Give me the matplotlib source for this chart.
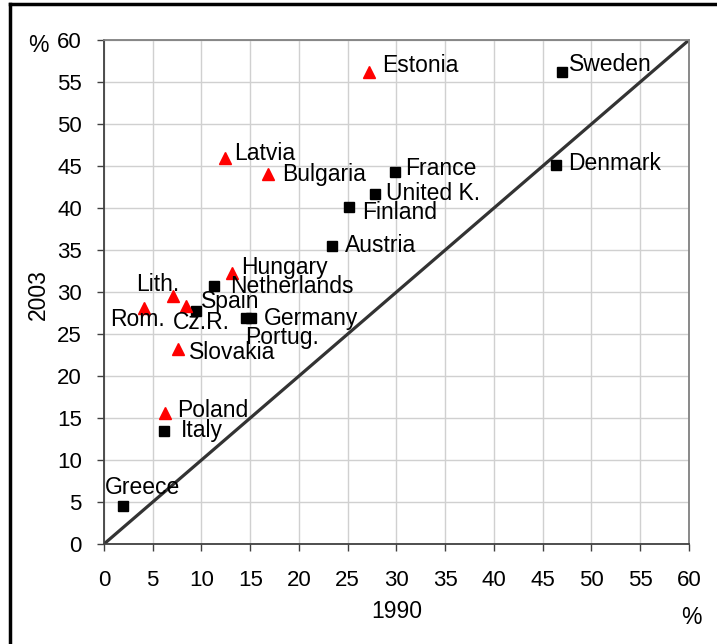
import numpy as np
import matplotlib
matplotlib.use("Agg")
import matplotlib.pyplot as plt
from matplotlib.lines import Line2D

plt.rcParams["font.family"] = ["Liberation Sans", "DejaVu Sans"]

# ----------------------------
# DATA
# ----------------------------
old_names = ["Sweden", "Denmark", "France", "United K.", "Finland", "Austria",
             "Netherlands", "Spain", "Germany", "Portug.", "Italy", "Greece"]
old_1990 = [47.0, 46.4, 29.8, 27.8, 25.1, 23.4, 11.3, 9.4, 15.1, 14.6, 6.2, 1.9]
old_2003 = [56.2, 45.1, 44.3, 41.7, 40.1, 35.5, 30.7, 27.7, 26.9, 26.9, 13.5, 4.5]

new_names = ["Estonia", "Latvia", "Bulgaria", "Hungary", "Lith.", "Rom.",
             "Cz.R.", "Slovakia", "Poland"]
new_1990 = [27.2, 12.4, 16.8, 13.1, 7.1, 4.1, 8.4, 7.6, 6.3]
new_2003 = [56.2, 46.0, 44.0, 32.3, 29.5, 28.1, 28.3, 23.2, 15.6]

ticks = list(range(0, 65, 5))

# label placement: (dx px, dy px, ha)
LABEL_POS = {
    "Estonia": (13, 6, "left"), "Sweden": (7, 7, "left"),
    "Latvia": (9, 4, "left"), "Bulgaria": (14, 0, "left"),
    "France": (11, 3, "left"), "Denmark": (12, 2, "left"),
    "United K.": (11, 0, "left"), "Finland": (13, -5, "left"),
    "Austria": (13, 0, "left"), "Hungary": (9, 5, "left"),
    "Netherlands": (16, 0, "left"), "Lith.": (-15, 12, "center"),
    "Spain": (5, 10, "left"), "Rom.": (-6, -12, "center"),
    "Cz.R.": (15, -16, "center"), "Germany": (13, 0, "left"),
    "Portug.": (-1, -19, "left"), "Slovakia": (11, -3, "left"),
    "Poland": (12, 2, "left"), "Italy": (16, 0, "left"),
    "Greece": (20, 19, "center"),
}

fig = plt.figure(figsize=(7.17, 6.44), dpi=100)
ax = fig.add_axes([104 / 717, 100 / 644, 585 / 717, 504 / 644])

ax.set_xlim(0, 60)
ax.set_ylim(0, 60)
ax.set_xticks(ticks)
ax.set_yticks(ticks)
ax.grid(True, color="#d0d0d0", linewidth=1)
ax.set_axisbelow(True)
ax.tick_params(direction="out", length=5, width=1, color="#404040",
               labelsize=16)
ax.tick_params(axis="y", pad=11)
ax.tick_params(axis="x", pad=14)
for side in ["left", "bottom"]:
    ax.spines[side].set_color("#404040")
    ax.spines[side].set_linewidth(1.3)
for side in ["top", "right"]:
    ax.spines[side].set_color("#808080")
    ax.spines[side].set_linewidth(1.3)

# y = x reference
ax.plot([0, 60], [0, 60], color="#333333", linewidth=2.3, zorder=2)

ax.plot(old_1990, old_2003, linestyle="none", marker="s", markersize=7,
        color="black", zorder=3)
ax.plot(new_1990, new_2003, linestyle="none", marker="^", markersize=9,
        color="#ff0000", zorder=3)

for name, xv, yv in zip(old_names + new_names, old_1990 + new_1990,
                        old_2003 + new_2003):
    dx, dy, ha = LABEL_POS[name]
    ax.annotate(name, (xv, yv), xytext=(dx, dy), textcoords="offset pixels",
                ha=ha, va="center", fontsize=16.5, zorder=4)

fig.text(397 / 717, 1 - 612 / 644, "1990", fontsize=16.5, ha="center", va="center")
fig.text(38 / 717, 1 - 295 / 644, "2003", fontsize=16.5, ha="center", va="center",
         rotation=90)
fig.text(38 / 717, 1 - 45 / 644, "%", fontsize=16.5, ha="center", va="center")
fig.text(691 / 717, 1 - 617 / 644, "%", fontsize=16.5, ha="center", va="center")

# figure frame (left and top edges visible)
fig.add_artist(Line2D([10 / 717, 10 / 717], [0, 1 - 4 / 644],
                      transform=fig.transFigure, color="black", linewidth=2.5))
fig.add_artist(Line2D([10 / 717, 1], [1 - 4 / 644, 1 - 4 / 644],
                      transform=fig.transFigure, color="black", linewidth=2.5))

fig.savefig("out.png", dpi=100)
